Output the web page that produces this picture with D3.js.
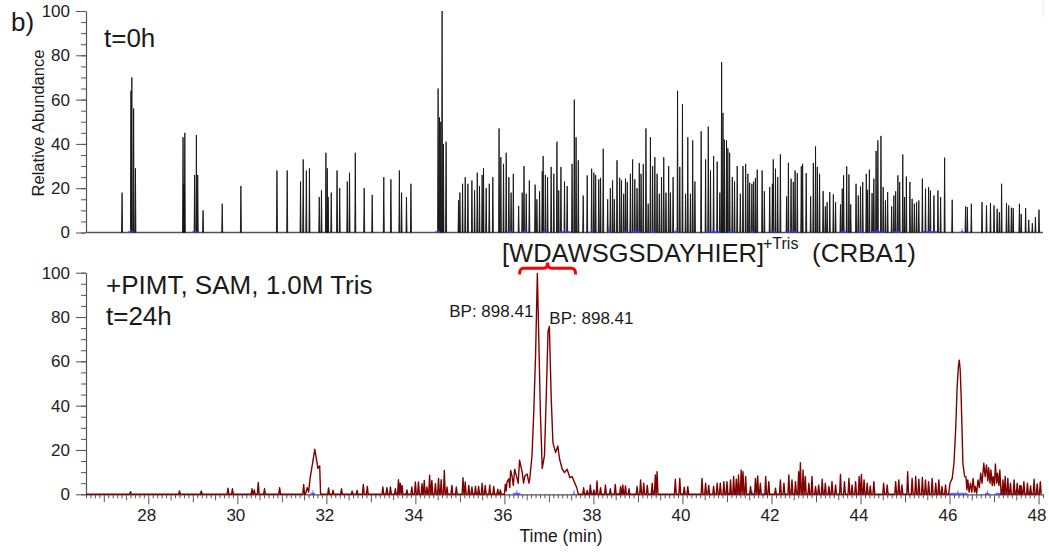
<!DOCTYPE html>
<html>
<head>
<meta charset="utf-8">
<script src="https://d3js.org/d3.v7.min.js"></script>
<style>
  body { margin: 0; background: #fff; }
  text { font-family: "Liberation Sans", Arial, sans-serif; fill: #1a1a1a; }
  .axis text { font-size: 17px; fill: #222; }
  .axis path, .axis line { stroke: #555; }
</style>
</head>
<body>
<div id="chart"></div>
<script>
// t=0h : centroid spikes [time (min), relative abundance]
var topSpikes = [
  [27.41,18],[27.61,64],[27.63,70],[27.67,56],[27.71,29],[28.78,43],[28.80,22],[28.82,45],
  [29.04,26],[29.08,44],[29.11,26],[29.23,10],[29.66,13],[30.08,21],[30.89,28],[31.12,28],
  [31.42,23],[31.48,33],[31.55,28],[31.62,29],[31.84,16],[31.89,19],[31.99,36],[32.02,29],
  [32.04,16],[32.11,18],[32.24,28],[32.30,20],[32.47,23],[32.52,27],[32.65,36],[32.85,20],
  [33.03,17],[33.29,25],[33.45,24],[33.64,28],[33.69,18],[33.80,16],[33.90,22],
  [34.51,65],[34.54,52],[34.57,50],[34.60,100],[34.63,40],[34.69,41],
  [34.97,14.5],[35.00,18],[35.06,22],[35.12,25],[35.18,22],[35.27,23.5],[35.33,19],[35.39,27],
  [35.44,21],[35.50,26],[35.53,29],[35.59,20],[35.66,22],[35.74,25],[35.88,47],[35.92,34],
  [35.98,31],[36.04,36],[36.10,25],[36.15,18],[36.20,26.5],[36.32,12],[36.40,18],[36.44,30],
  [36.49,17.5],[36.56,23.5],[36.69,21.6],[36.73,15],[36.79,18.6],[36.85,27.6],[36.87,34.5],
  [36.92,26],[36.97,25],[37.05,29.6],[37.11,26.5],[37.18,41],[37.22,19],[37.27,29.6],[37.35,23],
  [37.41,21],[37.52,31],[37.57,60],[37.61,43],[37.66,32.6],[37.77,16.7],[37.86,25.8],[37.96,28.8],
  [38.01,27],[38.05,26],[38.12,24],[38.16,24.7],[38.22,37.8],[38.32,15],[38.38,20],[38.43,23.5],
  [38.47,15],[38.53,32.6],[38.59,24.7],[38.63,23.5],[38.68,17.5],[38.72,24.3],[38.76,22.8],
  [38.83,26.5],[38.88,33],[38.93,24],[38.98,20],[39.03,31.4],[39.07,26.5],[39.12,30.8],[39.18,47],
  [39.23,13],[39.28,43],[39.33,30],[39.38,34],[39.43,26.5],[39.48,17.5],[39.53,25],[39.58,34],
  [39.63,18],[39.69,30],[39.73,18],[39.79,25],[39.89,64],[39.94,29.6],[40.00,58],[40.07,17.5],
  [40.12,43],[40.18,17.5],[40.23,41.6],[40.28,23],[40.42,45.7],[40.52,33],[40.58,47.8],[40.63,28],
  [40.70,34.5],[40.78,32],[40.84,18],[40.88,77],[40.91,54],[40.94,42],[40.99,41.6],[41.02,38],
  [41.06,36],[41.12,25],[41.17,23],[41.23,30],[41.30,17.5],[41.36,30],[41.42,31],[41.47,26.5],
  [41.51,22.5],[41.56,22],[41.60,23],[41.64,24.7],[41.68,28.4],[41.79,28],[41.84,18.6],[41.96,20.5],
  [42.02,22],[42.04,33],[42.09,28.8],[42.14,25],[42.20,35.3],[42.34,16.3],[42.38,31.5],[42.44,24.3],
  [42.49,22.8],[42.53,28],[42.58,26.8],[42.67,29.9],[42.70,31],[42.78,26.8],[42.88,16.3],[42.94,31.4],
  [42.99,38.9],[43.03,29.6],[43.08,26.5],[43.16,18.7],[43.21,11.8],[43.25,13.7],[43.31,18.2],
  [43.39,17.2],[43.44,13.7],[43.55,12.7],[43.59,19.8],[43.62,25.8],[43.69,29.9],[43.74,26.2],
  [43.78,12.7],[43.90,22],[43.95,16.7],[44.00,20.8],[44.05,22.8],[44.13,26.5],[44.16,19.3],
  [44.20,28.4],[44.26,17.8],[44.30,24.3],[44.35,36.8],[44.39,41.6],[44.46,43.6],[44.51,20.5],
  [44.56,14.5],[44.61,18.2],[44.70,11.8],[44.75,16.7],[44.79,18.6],[44.84,25.8],[44.88,22.8],
  [44.95,35.2],[44.99,16],[45.03,25.3],[45.11,22.8],[45.16,15.2],[45.21,13],[45.26,13.7],[45.31,14.5],
  [45.39,24.3],[45.46,19.8],[45.53,20.5],[45.57,19],[45.65,16.7],[45.74,19],[45.80,16],[45.89,33.8],
  [46.06,14.8],[46.36,11.8],[46.40,11.5],[46.49,13],[46.73,13.7],[46.83,12.2],[46.92,13.3],
  [47.00,12.2],[47.07,10.7],[47.12,9.2],[47.17,22],[47.28,13.3],[47.33,12.2],[47.39,11.2],
  [47.43,11],[47.57,13],[47.61,8.4],[47.71,11],[47.78,5.7],[47.86,4.2],[47.93,6.9],[48.01,10.3]
];

// t=24h : baseline noise spikes
var bottomNoise = [
  [27.60,1.2],[28.70,1.5],[29.19,1.5],[29.79,2.7],[29.89,2.5],[30.33,2.5],[30.38,2],[30.47,5.3],
  [30.61,2.5],[30.95,3],[31.49,4.5],
  [32.05,2.9],[32.15,1.8],[32.34,2.5],[32.58,1.4],[32.69,1.8],[32.83,4.4],[32.92,3.5],[33.27,3.3],
  [33.36,3],[33.44,3.3],[33.55,2.5],[33.62,6.6],[33.66,5],[33.70,4],[33.81,2],[33.92,3.3],[34.00,5.6],
  [34.07,5.6],[34.15,4.8],[34.20,6.3],[34.26,3.3],[34.32,8.6],[34.37,6.3],[34.45,4.8],[34.52,7.2],
  [34.58,6.6],[34.65,10.8],[34.71,3.3],[34.82,4],[34.92,3.3],[35.07,7.5],[35.12,5.6],[35.20,4],
  [35.27,3.3],[35.35,3.6],[35.42,3.6],[35.50,5],[35.57,4],[35.67,4.2],[35.76,3.5],[35.85,2.3],[35.91,2],
  [37.78,3],[37.86,1.8],[37.93,4.2],[38.01,2],[38.08,6],[38.16,3],[38.27,4.2],[38.38,2.5],[38.49,4.5],
  [38.61,3.5],[38.66,4.2],[38.72,3.8],[38.80,2.5],[38.98,3.5],[39.06,6.5],[39.13,5],[39.21,4],
  [39.32,5],[39.39,8.7],[39.43,10.2],[39.84,6.8],[39.94,7.2],[40.04,3.2],[40.12,3.5],[40.44,7.2],
  [40.52,5],[40.59,4],[40.70,3.6],[40.78,5],[40.85,5],[40.93,5.7],[41.00,5.7],[41.08,6.5],[41.15,8],
  [41.21,6.8],[41.26,8.7],[41.32,11],[41.36,10.2],[41.42,8],[41.53,3.5],[41.64,7.2],[41.69,8.3],
  [41.75,5],[41.87,8],[41.94,5.7],[42.09,2.7],[42.20,6.5],[42.28,5],[42.39,8.7],[42.46,6.5],
  [42.54,5.7],[42.61,10.2],[42.65,14.3],[42.71,11],[42.76,8],[42.84,5],[42.91,8],[42.99,3.5],
  [43.06,4.2],[43.14,6.8],[43.21,5],[43.29,3.5],[43.36,5.7],[43.44,4.2],[43.55,9],[43.64,5.7],
  [43.74,7.2],[43.81,4.2],[43.89,5.7],[43.97,8],[44.02,9],[44.08,6.5],[44.15,5],[44.22,3.8],
  [44.30,5.7],[44.52,5],[44.60,4.2],[44.79,5.7],[44.86,6.5],[44.93,4.2],[45.06,10.2],[45.16,7.2],
  [45.24,8],[45.31,6.8],[45.39,7.6],[45.46,6.5],[45.53,5.7],[45.61,7.2],[45.69,5],[45.76,6.5],
  [45.83,3.5],[45.91,4.2],
  [47.20,6.5],[47.25,8],[47.31,7.2],[47.37,5],[47.45,6.5],[47.52,5],[47.58,4],[47.61,3.8],[47.67,5.7],
  [47.75,5],[47.82,3.8],[47.90,6.8],[47.97,4.7],[48.04,5.7]
];

// t=24h : eluting peaks (continuous profiles)
var peakA = [[31.53,0],[31.57,3],[31.60,1],[31.64,8],[31.69,14],[31.74,20.3],[31.78,15.5],[31.81,11.7],[31.85,12.8],[31.87,0]];
var peakB = [
  [36.00,0],[36.02,4.5],[36.04,1.5],[36.06,5.6],[36.10,7],[36.12,3],[36.14,10.8],[36.17,8.3],[36.20,4],
  [36.23,11.3],[36.28,7.5],[36.31,5],[36.34,15.4],[36.40,10],[36.43,5],[36.46,8.3],[36.51,9.2],
  [36.55,5],[36.57,7],[36.62,17.4],[36.66,37.3],[36.70,62.9],
  [36.74,99.7],[36.77,72],[36.81,35.8],[36.85,11.7],[36.90,17.4],[36.94,44.3],[36.98,73.5],
  [37.01,75.8],[37.05,44.3],[37.09,23.3],[37.15,18.8],[37.20,21.8],[37.24,15.8],[37.30,11.3],
  [37.35,9.8],[37.41,11.3],[37.47,7.5],[37.52,8],[37.57,5.6],[37.63,2.7],[37.66,0]
];
var peakC = [
  [45.98,0],[46.01,5],[46.06,7.2],[46.10,14],[46.14,30],[46.17,48],[46.20,58],[46.22,60.5],
  [46.24,56],[46.26,45],[46.28,30],[46.30,14],[46.34,8],[46.37,7.8],[46.39,2],[46.41,6.5],[46.44,1],
  [46.47,5],[46.50,1],[46.53,7.2],[46.56,1],[46.58,3.5],[46.61,0.5],[46.64,6.5],[46.67,3],[46.70,9.5],
  [46.73,5],[46.77,14],[46.80,8],[46.83,13.2],[46.86,6],[46.88,12],[46.91,5],[46.93,11],[46.96,4],
  [46.98,8],[47.01,4],[47.03,13.7],[47.06,5],[47.08,9.5],[47.11,4],[47.13,11],[47.16,0]
];

// blue peak-detection marks at the baseline [start, end] (min)
var topBlue = [[27.55,27.66],[28.99,29.10],[34.45,34.56],[36.06,36.17],[36.40,36.51],[36.85,36.96],
  [37.22,37.48],[37.93,38.00],[38.31,38.38],[38.65,38.76],[38.87,39.06],[39.28,39.39],[39.80,39.91],
  [40.52,40.85],[41.03,41.15],[41.53,41.60],[42.02,42.09],[42.31,42.58],[43.55,43.71],[43.93,44.07],
  [44.18,44.56],[44.74,44.90],[45.39,45.73],[46.25,46.31]];
var bottomBlue = [[31.64,31.75],[33.60,33.66],[34.13,34.18],[34.35,34.40],[36.20,36.36],[37.55,37.58],
  [37.82,38.09],[38.54,38.67],[39.28,39.40],[40.00,40.07],[41.00,41.30],[41.53,41.60],[41.85,41.92],
  [42.58,42.63],[43.13,43.18],[43.93,44.08],[45.98,46.40],[46.80,46.90],[47.03,47.30],[47.45,47.50],
  [47.73,47.88]];

var xDomain = [26.6, 48.1];
var majorY = d3.range(0, 101, 20);
var minorY = d3.range(0, 101, 5);
var bracketRange = [36.34, 37.60];

var width = 1049, height = 552;
var svg = d3.select("#chart").append("svg")
  .attr("width", width).attr("height", height);

var x = d3.scaleLinear().domain(xDomain).range([86, 1043]);
var yTop = d3.scaleLinear().domain([0, 100]).range([232.5, 11]);
var yBot = d3.scaleLinear().domain([0, 100]).range([494.3, 272.7]);

function yAxis(y) {
  svg.append("g").attr("class", "axis").attr("transform", "translate(86,0)")
    .call(d3.axisLeft(y).tickValues(minorY).tickSize(5).tickFormat(""))
    .call(g => g.select(".domain").remove());
  svg.append("g").attr("class", "axis").attr("transform", "translate(86,0)")
    .call(d3.axisLeft(y).tickValues(majorY).tickSize(10).tickSizeOuter(0).tickPadding(6))
    .call(g => g.select(".domain").attr("stroke", "#444").attr("stroke-width", 1.2));
}
yAxis(yTop);
yAxis(yBot);

// top panel baseline
svg.append("line")
  .attr("x1", x(xDomain[0])).attr("x2", x(xDomain[1]))
  .attr("y1", yTop(0)).attr("y2", yTop(0))
  .attr("stroke", "#555").attr("stroke-width", 1.5);
svg.append("line")
  .attr("x1", x(xDomain[1])).attr("x2", x(xDomain[1]))
  .attr("y1", 0).attr("y2", yTop(97))
  .attr("stroke", "#eee");

// bottom x axis with graded ticks
var tenths = d3.range(266, 482).map(i => i / 10);
function xTicks(vals, size) {
  svg.append("g").attr("class", "axis").attr("transform", "translate(0," + yBot(0) + ")")
    .call(d3.axisBottom(x).tickValues(vals).tickSize(size).tickFormat(""))
    .call(g => g.select(".domain").remove())
    .call(g => g.selectAll("line").attr("stroke", "#666"));
}
xTicks(tenths.filter(v => Math.round(v * 10) % 5 !== 0), 4);
xTicks(tenths.filter(v => Math.round(v * 10) % 5 === 0 && Math.round(v * 10) % 10 !== 0), 6);
xTicks(d3.range(27, 49, 2), 8);
svg.append("g").attr("class", "axis").attr("transform", "translate(0," + yBot(0) + ")")
  .call(d3.axisBottom(x).tickValues(d3.range(28, 49, 2)).tickSize(10).tickPadding(5).tickSizeOuter(0))
  .call(g => g.select(".domain").attr("stroke", "#800000").attr("stroke-width", 1.2))
  .call(g => g.selectAll("line").attr("stroke", "#444"))
  .call(g => g.selectAll("text").attr("dx", "-2"));

// blue marks
function blueMarks(data, y) {
  svg.append("g").selectAll("rect").data(data).join("rect")
    .attr("x", d => x(d[0])).attr("width", d => Math.max(1.5, x(d[1]) - x(d[0])))
    .attr("y", y(0) - 1.5).attr("height", 2)
    .attr("fill", "#3a3aff").attr("opacity", 0.75);
  svg.append("g").selectAll("line").data(data).join("line")
    .attr("x1", d => x((d[0] + d[1]) / 2)).attr("x2", d => x((d[0] + d[1]) / 2))
    .attr("y1", y(0)).attr("y2", y(0) - 4)
    .attr("stroke", "#3a3aff").attr("stroke-width", 1).attr("opacity", 0.7);
}

// top spikes
var line = d3.line();
var w = 0.011;
svg.append("g").selectAll("path").data(topSpikes).join("path")
  .attr("d", d => line([[x(d[0] - w), yTop(0)], [x(d[0]), yTop(d[1])], [x(d[0] + w), yTop(0)]]))
  .attr("fill", "#222").attr("stroke", "#111").attr("stroke-width", 1)
  .attr("stroke-opacity", 0.85);
blueMarks(topBlue, yTop);

// bottom trace
var pts = [[xDomain[0], 0]];
bottomNoise.forEach(d => pts.push([d[0] - 0.02, 0], d, [d[0] + 0.02, 0]));
pts = pts.concat(peakA, peakB, peakC).sort((a, b) => a[0] - b[0]);
blueMarks(bottomBlue, yBot);
svg.append("path").datum(pts)
  .attr("d", d3.line().x(d => x(d[0])).y(d => yBot(d[1])))
  .attr("fill", "none").attr("stroke", "#800000").attr("stroke-width", 1.4)
  .attr("stroke-linejoin", "round");

// red bracket over the Tris adduct peaks
var bl = x(bracketRange[0]), br = x(bracketRange[1]), bc = (bl + br) / 2;
var yh = yBot(102), yd = yBot(99.2), yu = yBot(104.6);
svg.append("path")
  .attr("d", "M" + bl + "," + yd + " Q" + bl + "," + yh + " " + (bl + 4) + "," + yh +
    " L" + (bc - 4) + "," + yh + " Q" + bc + "," + yh + " " + bc + "," + yu +
    " Q" + bc + "," + yh + " " + (bc + 4) + "," + yh +
    " L" + (br - 4) + "," + yh + " Q" + br + "," + yh + " " + br + "," + yd)
  .attr("fill", "none").attr("stroke", "#ff0000").attr("stroke-width", 3);

// labels
svg.append("text").attr("x", 11).attr("y", 31).style("font-size", "26px").text("b)");
svg.append("text").attr("x", 104).attr("y", 47).style("font-size", "26px").text("t=0h");
svg.append("text").attr("transform", "translate(44,123) rotate(-90)")
  .attr("text-anchor", "middle").style("font-size", "16.5px").text("Relative Abundance");
svg.append("text").attr("x", 106).attr("y", 294).style("font-size", "26px").text("+PIMT, SAM, 1.0M Tris");
svg.append("text").attr("x", 106).attr("y", 325).style("font-size", "26px").text("t=24h");
svg.append("text").attr("x", 502).attr("y", 262).style("font-size", "25.5px").text("[WDAWSGSDAYHIER]");
svg.append("text").attr("x", 763).attr("y", 249).style("font-size", "16px").text("+Tris");
svg.append("text").attr("x", 812).attr("y", 262).style("font-size", "26px").text("(CRBA1)");
svg.append("text").attr("x", x(36.74) - 4).attr("y", yBot(80)).attr("text-anchor", "end")
  .style("font-size", "17px").text("BP: 898.41");
svg.append("text").attr("x", x(37.01)).attr("y", yBot(77))
  .style("font-size", "17px").text("BP: 898.41");
svg.append("text").attr("x", 561).attr("y", 542).attr("text-anchor", "middle")
  .style("font-size", "17.5px").text("Time (min)");
</script>
</body>
</html>
